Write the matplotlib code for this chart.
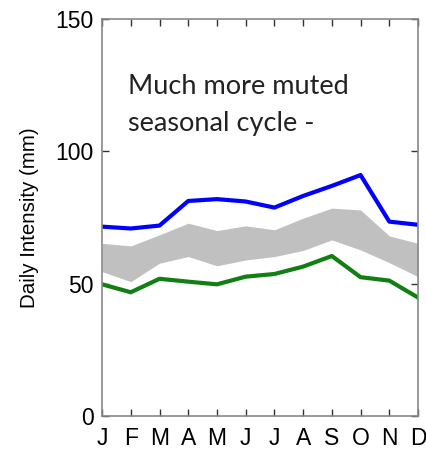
import matplotlib
matplotlib.use("Agg")
import matplotlib.pyplot as plt
import numpy as np

months = ["J", "F", "M", "A", "M", "J", "J", "A", "S", "O", "N", "D"]
blue_vals = [71.5, 70.8, 71.9, 81.2, 81.9, 81.0, 78.7, 83.1, 86.9, 91.0, 73.4, 72.2]
green_vals = [49.7, 46.7, 51.8, 50.7, 49.7, 52.6, 53.6, 56.4, 60.4, 52.4, 51.1, 44.7]
band_upper = [65.2, 64.2, 68.4, 72.8, 70.0, 71.8, 70.3, 74.7, 78.5, 77.8, 68.0, 65.2]
band_lower = [54.5, 50.7, 57.7, 60.2, 56.7, 58.9, 60.2, 62.5, 66.5, 62.7, 57.9, 52.6]
y_ticks = [0, 50, 100, 150]
annotation_lines = ["Much more muted", "seasonal cycle -"]

x = np.arange(1, len(months) + 1)

fig = plt.figure(figsize=(4.27, 4.51), dpi=100)
ax = fig.add_axes([0.239, 0.078, 0.740, 0.880])

ax.fill_between(x, band_lower, band_upper, color="#c0c0c0", linewidth=0)
ax.plot(x, blue_vals, color="#0000ff", linewidth=3)
ax.plot(x, green_vals, color="#117f11", linewidth=3)

ax.set_xlim(1, 12)
ax.set_ylim(0, 150)
ax.set_xticks(x)
ax.set_xticklabels(months, family="Liberation Sans", fontsize=16.5)
ax.set_yticks(y_ticks)
ax.set_yticklabels([str(v) for v in y_ticks], family="Liberation Sans", fontsize=16.5)
ax.tick_params(direction="in", top=True, right=True, length=5, color="#333333", width=1)
ax.tick_params(axis="x", pad=8)
ax.tick_params(axis="y", pad=6)
for s in ax.spines.values():
    s.set_color("#888888")
    s.set_linewidth(1.2)

ax.set_ylabel("Daily Intensity (mm)", family="Liberation Sans", fontsize=14.8, labelpad=12)

ax.text(0.083, 0.811, annotation_lines[0], transform=ax.transAxes,
        family="Lato", fontsize=19.5, color="#222222", va="baseline", ha="left")
ax.text(0.083, 0.718, annotation_lines[1], transform=ax.transAxes,
        family="Lato", fontsize=19.5, color="#222222", va="baseline", ha="left")

fig.savefig("out.png", dpi=100)
